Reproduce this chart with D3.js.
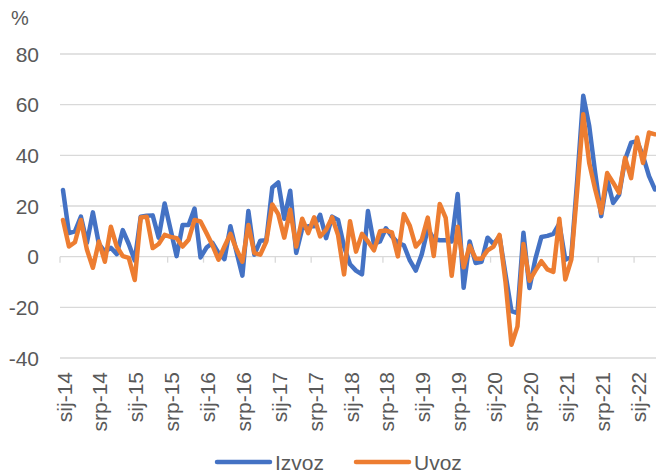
<!DOCTYPE html>
<html>
<head>
<meta charset="utf-8">
<script src="https://cdn.jsdelivr.net/npm/d3@7"></script>
<style>
  body { margin: 0; background: #fff; }
  svg text { font-family: "Liberation Sans", Arial, sans-serif; fill: #595959; }
</style>
</head>
<body>
<svg id="chart" width="656" height="473"></svg>
<script>
// mjesecne kategorije, sij-14 do tra-23
const monthNames = ["sij", "velj", "ožu", "tra", "svi", "lip", "srp", "kol", "ruj", "lis", "stu", "pro"];
const years = [14, 15, 16, 17, 18, 19, 20, 21, 22, 23];
const categories = [];
for (const yr of years) {
    for (const m of monthNames) categories.push(m + "-" + yr);
}
categories.length = 100;

const izvoz = [
    26.3, 9.3, 10, 15.8, 5.5, 17.5, 5, 2, 3.5, 1, 10.5, 5,
    -1.5, 15.8, 16.2, 16.3, 7.5, 21, 10.6, 0.2, 12.5, 12.5, 19, -0.3,
    3.6, 5.4, 1.5, -1, 12, 2, -7.5, 18, 0.8, 6.3, 6.5, 27.3,
    29.3, 15, 26, 1.5, 11, 12, 12, 16.5, 7.3, 15.8, 14.5, 4,
    -3, -5.5, -7, 18, 5, 6, 11.2, 8, 5.5, 4.5, -1.5, -5.5,
    1, 11, 7, 6.5, 6.5, 6, 24.7, -12.3, 6, -2.5, -2, 7.5,
    5, 8, -7, -21.5, -22.3, 9.4, -12.4, -0.8, 7.8, 8.2, 9, 13,
    -1.2, 0, 30.5, 63.5, 51.6, 33, 16, 30.5, 21.2, 24.5, 38.4, 45,
    45.6, 39.7, 31.8, 26.5
];

const uvoz = [
    14.5, 4, 5.7, 14.5, 2.8, -4.4, 6, -2, 11.8, 4, 0.2, -0.5,
    -9.2, 15.5, 15.8, 3.4, 5, 8.6, 7.8, 7.3, 4, 6.7, 14.5, 13.9,
    9.3, 4.5, -1.2, 4, 9, 3, -2, 12.5, 1.4, 0.8, 6, 20.6,
    16.8, 7.5, 18.5, 4, 15, 9.3, 15.5, 8, 10.6, 15.5, 8.5, -7,
    14, 2, 9, 6, 2.5, 10, 10.3, 9.6, 0.1, 16.8, 12.2, 4,
    6.7, 15.4, 0.3, 20.8, 15.3, -7.5, 11.8, -4.2, 4.3, -0.7, -0.8, 2.5,
    4, 8.6, -10, -34.8, -27.5, 5, -9.5, -5.5, -1.8, -5, -6, 15,
    -9, -1.2, 26.5, 56.2, 37, 26.5, 17.3, 33, 29.2, 25.2, 39, 31,
    47, 37, 49, 48.3
];

const yTickValues = [-40, -20, 0, 20, 40, 60, 80];
const seriesNames = ["Izvoz", "Uvoz"];
const seriesColors = ["#4472C4", "#ED7D31"];

const plotLeft = 60, plotRight = 658, plotTop = 54, plotBottom = 358;

const svg = d3.select('#chart');

const x = d3.scaleBand()
    .domain(categories)
    .range([plotLeft, plotRight]);

const y = d3.scaleLinear()
    .domain([-40, 80])
    .range([plotBottom, plotTop]);

// mreza
svg.append('g')
    .selectAll('line')
    .data(yTickValues)
    .enter().append('line')
        .attr('x1', plotLeft)
        .attr('x2', 656)
        .attr('y1', d => y(d))
        .attr('y2', d => y(d))
        .attr('stroke', '#d9d9d9')
        .attr('stroke-width', 1.3);

// y oznake
svg.append('g')
    .selectAll('text')
    .data(yTickValues)
    .enter().append('text')
        .attr('x', 39)
        .attr('y', d => y(d))
        .attr('dy', '0.36em')
        .attr('text-anchor', 'end')
        .style('font-size', '21px')
        .text(d => d);

svg.append('text')
    .attr('x', 11)
    .attr('y', 25)
    .style('font-size', '20px')
    .text('%');

// x os - crtice svakih 6 mjeseci
const tickCats = categories.filter((d, i) => i % 6 === 0);
svg.append('g')
    .selectAll('line')
    .data(tickCats)
    .enter().append('line')
        .attr('x1', d => x(d))
        .attr('x2', d => x(d))
        .attr('y1', y(0))
        .attr('y2', y(0) + 6)
        .attr('stroke', '#d9d9d9')
        .attr('stroke-width', 1.3);

svg.append('g')
    .selectAll('text')
    .data(tickCats)
    .enter().append('text')
        .attr('transform', d => `translate(${x(d) + x.bandwidth() / 2 + 1},372) rotate(-90)`)
        .attr('dy', '0.36em')
        .attr('text-anchor', 'end')
        .style('font-size', '21px')
        .text(d => d);

// linije
const line = d3.line()
    .x((d, i) => x(categories[i]) + x.bandwidth() / 2)
    .y(d => y(d));

[izvoz, uvoz].forEach((series, k) => {
    svg.append('path')
        .datum(series)
        .attr('fill', 'none')
        .attr('stroke', seriesColors[k])
        .attr('stroke-width', 4.5)
        .attr('stroke-linejoin', 'round')
        .attr('stroke-linecap', 'round')
        .attr('d', line);
});

// legenda
const legendX = [217, 356];
const legend = svg.append('g')
    .selectAll('g')
    .data(seriesNames)
    .enter().append('g')
        .attr('transform', (d, i) => `translate(${legendX[i]},462)`);

legend.append('line')
    .attr('x1', 0)
    .attr('x2', 53)
    .attr('stroke', (d, i) => seriesColors[i])
    .attr('stroke-width', 4.5)
    .attr('stroke-linecap', 'round');

legend.append('text')
    .attr('x', 58)
    .attr('dy', '0.36em')
    .style('font-size', '21px')
    .text(d => d);
</script>
</body>
</html>
